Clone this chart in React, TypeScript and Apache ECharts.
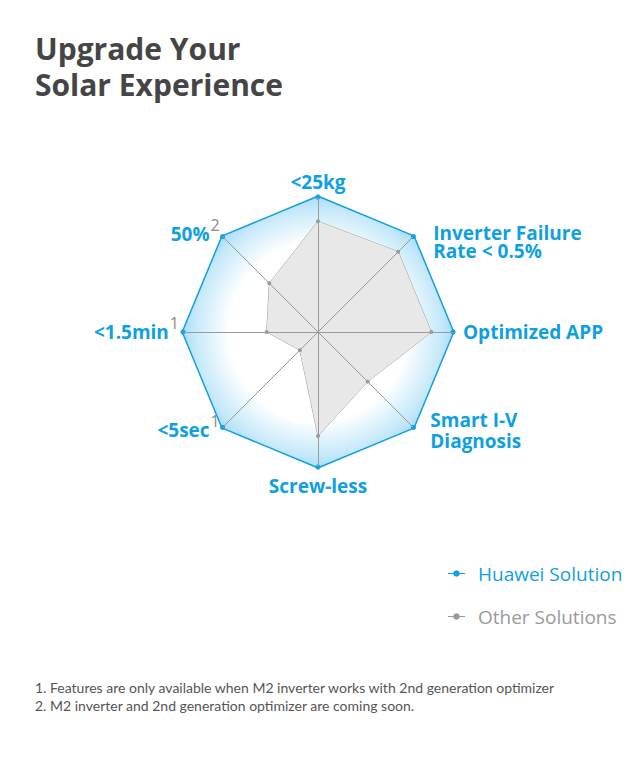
import React, { useEffect, useRef } from "react";
import * as echarts from "echarts";

const indicatorNames = [
  "<25kg",
  "50%",
  "<1.5min",
  "<5sec",
  "Screw-less",
  "Smart I-V\nDiagnosis",
  "Optimized APP",
  "Inverter Failure\nRate < 0.5%",
];
const footnoteMarks = ["", "2", "1", "1", "", "", "", ""];
const labelSides = ["top", "ul", "l", "ll", "bottom", "lr", "r", "ur"];
const maxValue = 100;
const huaweiValues = [100, 100, 100, 100, 100, 100, 100, 100];
const otherValues = [82, 51, 38, 19, 77, 52, 84, 84];
const seriesNames = ["Huawei Solution", "Other Solutions"];
const titleLines = ["Upgrade Your", "Solar Experience"];
const footnotes = [
  "1. Features are only available when M2 inverter works with 2nd generation optimizer",
  "2. M2 inverter and 2nd generation optimizer are coming soon.",
];

const BLUE = "#0ea0e2";
const GRAY = "#9a9a9a";

export default function App() {
  const ref = useRef<HTMLDivElement>(null);
  useEffect(() => {
    if (!ref.current) return;
    const chart = echarts.init(ref.current, null, { renderer: "svg" });
    const legendIcon =
      "path://M0,3.4 L5.2,3.4 A3.4,3.4 0 0 1 11.8,3.4 L17,3.4 L17,4.6 L11.8,4.6 A3.4,3.4 0 0 1 5.2,4.6 L0,4.6 Z";
    const formatter = (name: string) => {
      const idx = indicatorNames.indexOf(name);
      const side = labelSides[idx];
      const lines = name.split("\n");
      const parts = lines.map((ln, i) => {
        let style = "m";
        if (side === "ur") style = "ur";
        else if (side === "lr") style = "lr";
        else if (side === "r") style = "r";
        else if (side === "bottom") style = "b";
        else if (side === "top") style = "t";
        const hasSup = i === lines.length - 1 && footnoteMarks[idx];
        if (hasSup) style = "ms";
        let s = `{${style}|${ln}}`;
        if (hasSup) s += `{sup|${footnoteMarks[idx]}}`;
        return s;
      });
      if (side === "ur") parts.unshift("{sp| }");
      return parts.join("\n");
    };
    const baseLabel = { color: BLUE, fontSize: 19, fontWeight: "bold", fontFamily: "Open Sans", lineHeight: 20 };
    chart.setOption({
      animation: false,
      backgroundColor: "#ffffff",
      title: [
        {
          text: titleLines.join("\n"),
          left: 30,
          top: 25,
          textStyle: { color: "#454545", fontSize: 30, fontWeight: "bold", fontFamily: "Open Sans", lineHeight: 36 },
        },
        {
          text: footnotes.join("\n"),
          left: 30,
          top: 673,
          textStyle: { color: "#555555", fontSize: 14, fontWeight: "normal", fontFamily: "Lato", lineHeight: 18 },
        },
      ],
      legend: {
        orient: "vertical",
        left: 443,
        top: 559,
        itemWidth: 17,
        itemHeight: 8,
        itemGap: 24,
        selectedMode: false,
        data: [
          { name: seriesNames[0], icon: legendIcon, itemStyle: { color: BLUE }, textStyle: { color: BLUE } },
          { name: seriesNames[1], icon: legendIcon, itemStyle: { color: GRAY }, textStyle: { color: GRAY } },
        ],
        textStyle: { fontSize: 19, fontFamily: "Open Sans", padding: [0, 0, 0, 8] },
      },
      radar: {
        z: 5,
        center: [318, 332],
        radius: 135,
        startAngle: 90,
        shape: "polygon",
        splitNumber: 1,
        nameGap: 4,
        indicator: indicatorNames.map((n) => ({ name: n, max: maxValue, min: 0 })),
        axisLine: { lineStyle: { color: GRAY, width: 1 } },
        splitLine: { show: false },
        splitArea: { show: false },
        axisName: {
          formatter,
          ...baseLabel,
          rich: {
            m: { ...baseLabel },
            ms: { ...baseLabel, lineHeight: 34 },
            t: { ...baseLabel, padding: [0, 0, 3, 0] },
            b: { ...baseLabel, padding: [9, 0, 0, 0] },
            r: { ...baseLabel, padding: [0, 0, 0, 6] },
            ur: { ...baseLabel, lineHeight: 18, padding: [0, 0, 0, 17] },
            sp: { ...baseLabel, lineHeight: 16, fontSize: 10 },
            lr: { ...baseLabel, lineHeight: 21, padding: [0, 0, 0, 14] },
            sup: { color: "#8a8a8a", fontSize: 16, fontWeight: "normal", fontFamily: "Open Sans", verticalAlign: "top", lineHeight: 12, padding: [0, 0, 0, 1] },
          },
        },
      },
      series: [
        {
          type: "radar",
          symbol: "circle",
          z: 2,
          data: [
            {
              name: seriesNames[0],
              value: huaweiValues,
              symbolSize: 5,
              itemStyle: { color: BLUE },
              lineStyle: { color: BLUE, width: 3 },
              areaStyle: {
                opacity: 1,
                color: new echarts.graphic.RadialGradient(0.5, 0.5, 0.5, [
                  { offset: 0, color: "#ffffff" },
                  { offset: 0.66, color: "#ffffff" },
                  { offset: 0.92, color: "#c4e8fa" },
                  { offset: 1, color: "#aadcf6" },
                ]),
              },
            },
            {
              name: seriesNames[1],
              value: otherValues,
              symbolSize: 4,
              itemStyle: { color: GRAY },
              lineStyle: { color: GRAY, width: 1 },
              areaStyle: { color: "#e8e8e8", opacity: 1 },
            },
          ],
        },
      ],
    });
    return () => chart.dispose();
  }, []);
  return <div ref={ref} style={{ position: "fixed", left: 0, top: 0, width: 640, height: 766 }} />;
}
